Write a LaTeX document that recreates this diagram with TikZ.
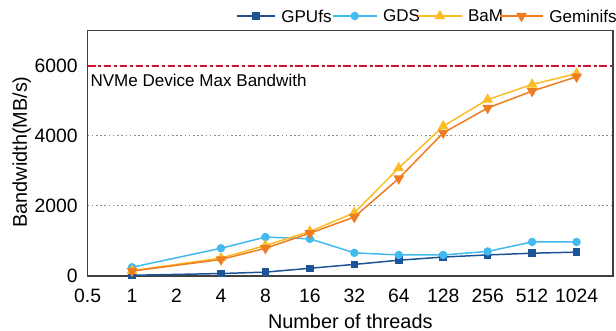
\documentclass[tikz,border=0pt]{standalone}
\usepackage{fontspec}
\setmainfont{Liberation Sans}
\definecolor{gpufsblue}{RGB}{28,84,152}
\definecolor{gdsblue}{RGB}{66,186,238}
\definecolor{bamyellow}{RGB}{251,188,36}
\definecolor{gemorange}{RGB}{238,124,32}
\definecolor{maxred}{RGB}{214,18,48}
\usetikzlibrary{shapes.geometric, calc}

\begin{document}
\begin{tikzpicture}[
      x=0.889cm, y=0.0007cm,
      frame/.style={draw=black!75, line width=0.8pt},
      gridline/.style={draw=black!45, line width=0.5pt, dash pattern=on 0.9pt off 1.5pt},
      maxline/.style={draw=maxred, line width=1.1pt, dash pattern=on 4.5pt off 1.6pt on 1.4pt off 1.6pt},
      gpline/.style={draw=gpufsblue, line width=0.85pt, line join=round},
      gdsline/.style={draw=gdsblue, line width=0.85pt, line join=round},
      bamline/.style={draw=bamyellow, line width=0.85pt, line join=round},
      gemline/.style={draw=gemorange, line width=0.85pt, line join=round},
      sqmark/.style={rectangle, fill=gpufsblue, minimum size=0.15cm, inner sep=0pt},
      cirmark/.style={circle, fill=gdsblue, minimum size=0.17cm, inner sep=0pt},
      upmark/.style={regular polygon, regular polygon sides=3, fill=bamyellow,
                     minimum size=0.25cm, inner sep=0pt},
      dnmark/.style={regular polygon, regular polygon sides=3, shape border rotate=180,
                     fill=gemorange, minimum size=0.25cm, inner sep=0pt},
      ticklabel/.style={font=\fontsize{11}{13}\selectfont, inner sep=0pt},
      axtitle/.style={font=\fontsize{11.3}{13}\selectfont, inner sep=0pt},
      legtext/.style={font=\fontsize{9.7}{11}\selectfont, inner sep=0pt, anchor=west}
    ]
      \useasboundingbox (-1.752cm,-1.1cm) rectangle (10.568cm,5.52cm);

      % Grid and max bandwidth line
      \foreach \v in {2000,4000}
        \draw[gridline] (0,\v) -- (11.82,\v);
      \draw[maxline] (0,6000) -- (11.82,6000);
      \node[legtext] (maxlabel) at ([xshift=0.052cm]0,5590) {NVMe Device Max Bandwith};

      % Plot frame
      \coordinate (origin) at (0,0);
      \coordinate (corner) at (11.82,7000);
      \draw[frame] (origin) rectangle (corner);

      % Axis labels
      \foreach \v in {0,2000,4000,6000}
        \node[ticklabel, anchor=east] (yt\v) at ([xshift=-0.19cm]0,\v) {\v};
      \foreach \t [count=\i from 0] in {0.5,1,2,4,8,16,32,64,128,256,512,1024}
        \node[ticklabel] (xt\i) at ([yshift=-0.39cm]\i,0) {\t};
      \node[axtitle] (xtitle) at ([yshift=-0.9cm]5.91,0) {Number of threads};
      \node[axtitle, rotate=90] (ytitle) at (-1.318cm,2.48cm) {Bandwidth(MB/s)};

      % Data points
      \foreach \x/\v [count=\i] in {1/20,3/70,4/110,5/220,6/330,7/450,8/540,9/600,10/650,11/680}
        \coordinate (gp\i) at (\x,\v);
      \foreach \x/\v [count=\i] in {1/250,3/790,4/1110,5/1060,6/660,7/600,8/600,9/700,10/970,11/970}
        \coordinate (gd\i) at (\x,\v);
      \foreach \x/\v [count=\i] in {1/150,3/510,4/870,5/1270,6/1800,7/3080,8/4270,9/5030,10/5460,11/5770}
        \coordinate (ba\i) at (\x,\v);
      \foreach \x/\v [count=\i] in {1/140,3/470,4/790,5/1220,6/1680,7/2780,8/4080,9/4790,10/5270,11/5680}
        \coordinate (ge\i) at (\x,\v);

      % Series
      \draw[gpline] (gp1) foreach \i in {2,...,10} { -- (gp\i) };
      \foreach \i in {1,...,10} \node[sqmark] (gpm\i) at (gp\i) {};
      \draw[gdsline] (gd1) foreach \i in {2,...,10} { -- (gd\i) };
      \foreach \i in {1,...,10} \node[cirmark] (gdm\i) at (gd\i) {};
      \draw[bamline] (ba1) foreach \i in {2,...,10} { -- (ba\i) };
      \foreach \i in {1,...,10} \node[upmark] (bam\i) at (ba\i) {};
      \draw[gemline] (ge1) foreach \i in {2,...,10} { -- (ge\i) };
      \foreach \i in {1,...,10} \node[dnmark] (gem\i) at (ge\i) {};

      % Legend
      \foreach \lbl/\ln/\mk/\xa/\xb [count=\i] in
          {GPUfs/gpline/sqmark/2.982/3.748, GDS/gdsline/cirmark/4.908/5.782,
           BaM/bamline/upmark/6.608/7.482, Geminifs/gemline/dnmark/8.248/9.108}
      {
        \coordinate (la\i) at (\xa cm,5.2cm);
        \coordinate (lb\i) at (\xb cm,5.2cm);
        \draw[\ln] (la\i) -- (lb\i);
        \node[\mk] (lm\i) at ($(la\i)!0.5!(lb\i)$) {};
        \node[legtext] (lt\i) at ([xshift=0.12cm]lb\i) {\lbl};
      }

    \end{tikzpicture}
\end{document}
